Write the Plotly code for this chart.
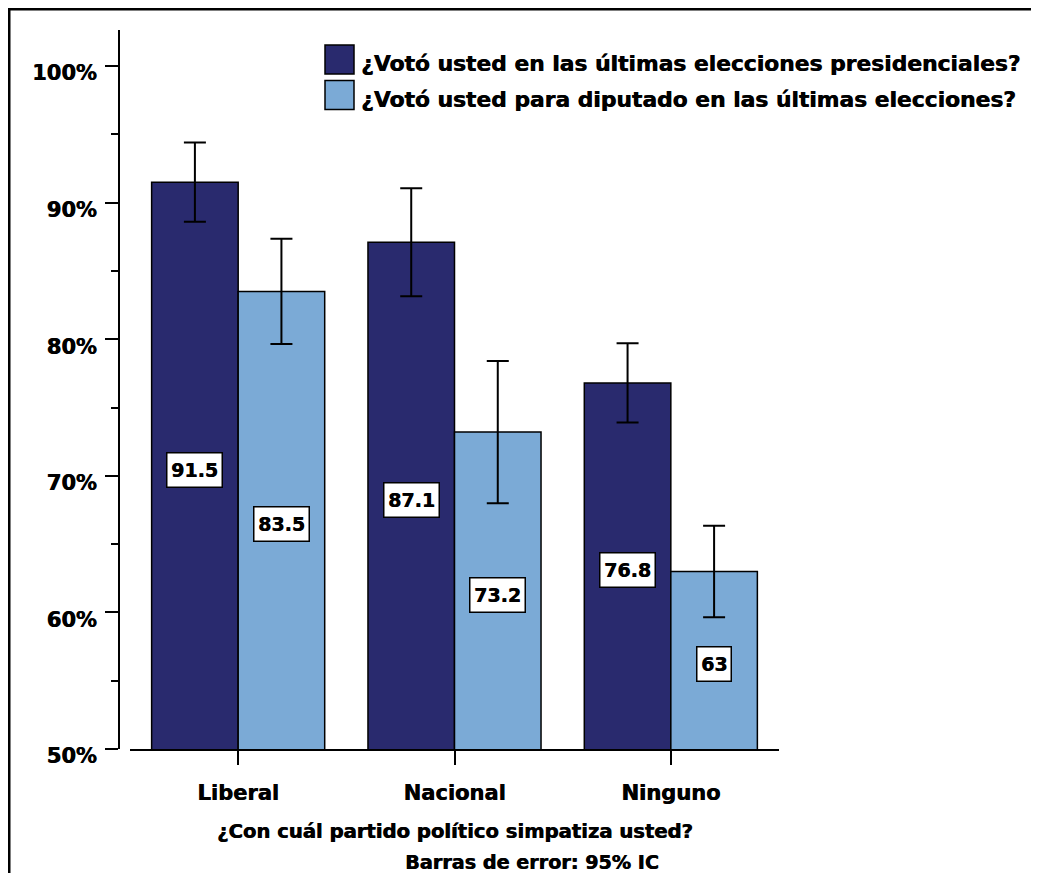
import plotly.graph_objects as go

categories = ["Liberal", "Nacional", "Ninguno"]
series_names = ["¿Votó usted en las últimas elecciones presidenciales?",
                "¿Votó usted para diputado en las últimas elecciones?"]
presidenciales = [91.5, 87.1, 76.8]
diputado = [83.5, 73.2, 63.0]
ci_presidenciales = [2.9, 3.95, 2.9]
ci_diputado = [3.85, 5.2, 3.35]
y_tickvals = [50, 60, 70, 80, 90, 100]
y_ticktext = ["50%", "60%", "70%", "80%", "90%", "100%"]
x_title = "¿Con cuál partido político simpatiza usted?"
footnote = "Barras de error: 95% IC"

# page body has an 8px margin; work in page pixels and convert
W, H = 1023, 865
OFF = 8
def px(x):
    return (x - OFF) / W
def py(y):
    return 1 - (y - OFF) / H

DARK = "#292A6E"
LIGHT = "#7BAAD6"
SHADOW = "0.6px 0px 0px black"
def font(size):
    return dict(family="DejaVu Sans", size=size, color="black", weight="bold", shadow=SHADOW)

fig = go.Figure()
for name, vals, ci, col in [(series_names[0], presidenciales, ci_presidenciales, DARK),
                            (series_names[1], diputado, ci_diputado, LIGHT)]:
    fig.add_trace(go.Bar(
        x=categories, y=vals, name=name, base=0,
        marker=dict(color=col, line=dict(color="black", width=1.5)),
        error_y=dict(type="data", array=ci, color="black", thickness=2, width=11),
        showlegend=False, hoverinfo="x+y",
    ))

annotations = []
# value boxes
for i, cat in enumerate(categories):
    for vals, off in [(presidenciales, -0.2), (diputado, 0.2)]:
        v = vals[i]
        annotations.append(dict(
            x=i + off, y=(50 + v) / 2, xref="x", yref="y",
            text=f"{v:g}", showarrow=False, yshift=-4,
            font=font(19), height=26,
            bgcolor="white", bordercolor="black", borderwidth=1.5, borderpad=3.5,
        ))

# legend entries
shapes = []
for k, (name, col) in enumerate([(series_names[0], DARK), (series_names[1], LIGHT)]):
    y0 = 45 + k * 35.5
    shapes.append(dict(type="rect", xref="paper", yref="paper",
                       x0=px(325), x1=px(354), y0=py(y0), y1=py(y0 + 29),
                       fillcolor=col, line=dict(color="black", width=1.5)))
    annotations.append(dict(x=px(359), y=py(y0 + 19), xref="paper", yref="paper",
                            text=name, showarrow=False, xanchor="left", yanchor="middle",
                            font=font(21.8)))

annotations.append(dict(x=px(455), y=py(831), xref="paper", yref="paper", text=x_title,
                        showarrow=False, xanchor="center", yanchor="middle", font=font(19.6)))
annotations.append(dict(x=px(532), y=py(862), xref="paper", yref="paper", text=footnote,
                        showarrow=False, xanchor="center", yanchor="middle", font=font(19.2)))

# outer frame (top and left edges visible)
shapes.append(dict(type="line", xref="paper", yref="paper", x0=px(8), x1=1.02,
                   y0=py(9), y1=py(9), line=dict(color="black", width=3)))
shapes.append(dict(type="line", xref="paper", yref="paper", x0=px(9), x1=px(9),
                   y0=py(8), y1=-0.02, line=dict(color="black", width=3)))

fig.update_layout(
    width=W, height=H,
    margin=dict(l=0, r=0, t=0, b=0, autoexpand=False),
    paper_bgcolor="white", plot_bgcolor="white",
    barmode="group", bargap=0.2, bargroupgap=0,
    font=font(20),
    xaxis=dict(domain=[px(130), px(779)], range=[-0.5, 2.5],
               showline=True, linecolor="black", linewidth=2,
               ticks="outside", ticklen=14, tickwidth=2, tickcolor="black",
               showgrid=False, zeroline=False,
               tickfont=font(21), ticklabelstandoff=10),
    yaxis=dict(domain=[py(749), py(30)], range=[50, 102.64],
               anchor="free", position=px(119),
               showline=True, linecolor="black", linewidth=2,
               tickvals=y_tickvals, ticktext=y_ticktext,
               ticks="outside", ticklen=13, tickwidth=2, tickcolor="black",
               minor=dict(dtick=5, ticks="outside", ticklen=7, tickwidth=2, tickcolor="black"),
               showgrid=False, zeroline=False,
               tickfont=font(21), ticklabelshift=7, ticklabelstandoff=4),
    annotations=annotations, shapes=shapes,
)

fig.write_html("out.html")
